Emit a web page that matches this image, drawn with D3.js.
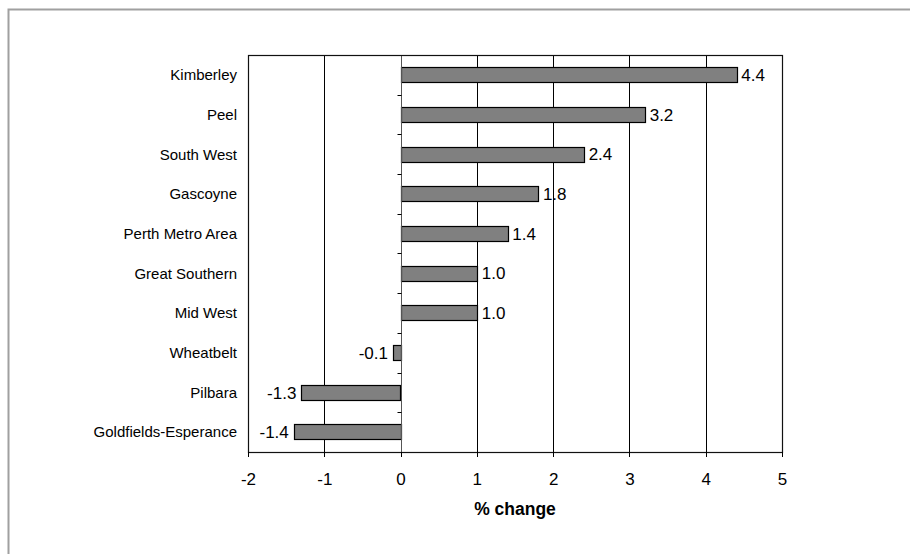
<!DOCTYPE html>
<html><head><meta charset="utf-8">
<script src="https://cdn.jsdelivr.net/npm/d3@7"></script>
<style>body{margin:0;background:#fff}svg{display:block}text{font-family:Arial,"Liberation Sans",sans-serif}</style>
</head><body>
<script>
const categories = ["Kimberley","Peel","South West","Gascoyne","Perth Metro Area","Great Southern","Mid West","Wheatbelt","Pilbara","Goldfields-Esperance"];
const values = [4.4,3.2,2.4,1.8,1.4,1.0,1.0,-0.1,-1.3,-1.4];
const xTicks = [-2,-1,0,1,2,3,4,5];
const xTitle = "% change";

const W = 910, H = 554;
const svg = d3.select("body").append("svg").attr("width", W).attr("height", H);

// outer frame (top & left visible)
svg.append("rect").attr("x", 8.5).attr("y", 9.5).attr("width", 1000).attr("height", 1000)
  .attr("fill", "none").attr("stroke", "#a0a0a0").attr("stroke-width", 2);

const L = 248, R = 782, T = 55, B = 452;
const x = d3.scaleLinear().domain([-2, 5]).range([L, R]);
const y = d3.scaleBand().domain(categories).range([T, B]).paddingInner(0.61).paddingOuter(0.305);

// gridlines
svg.append("g").selectAll("line").data(xTicks.filter(d => d !== 0 && d !== -2 && d !== 5)).join("line")
  .attr("x1", d => Math.round(x(d)) + 0.5).attr("x2", d => Math.round(x(d)) + 0.5)
  .attr("y1", T).attr("y2", B).attr("stroke", "#000").attr("stroke-width", 1);

// bars
svg.append("g").selectAll("rect").data(values).join("rect")
  .attr("x", d => Math.round(x(Math.min(0, d))) + 0.5)
  .attr("y", (d, i) => Math.round(y(categories[i])) + 0.5)
  .attr("width", d => Math.round(Math.abs(x(d) - x(0))))
  .attr("height", Math.round(y.bandwidth()))
  .attr("fill", "#808080").attr("stroke", "#000").attr("stroke-width", 1.2);

// zero axis line
const x0 = Math.round(x(0)) + 0.5;
svg.append("line").attr("x1", x0).attr("x2", x0).attr("y1", T).attr("y2", B)
  .attr("stroke", "#555").attr("stroke-width", 1);
// category boundary ticks
const bounds = d3.range(1, categories.length).map(i => y(categories[i]) - y.step() * y.paddingInner() / 2);
svg.append("g").selectAll("line").data(bounds).join("line")
  .attr("x1", x0 - 4).attr("x2", x0).attr("y1", d => Math.round(d) + 0.5).attr("y2", d => Math.round(d) + 0.5)
  .attr("stroke", "#000");

// plot frame
svg.append("rect").attr("x", L + 0.5).attr("y", T + 0.5).attr("width", R - L).attr("height", B - T)
  .attr("fill", "none").attr("stroke", "#111").attr("stroke-width", 1.2);

// x axis ticks
const gx = svg.append("g");
gx.selectAll("line").data(xTicks).join("line")
  .attr("x1", d => Math.round(x(d)) + 0.5).attr("x2", d => Math.round(x(d)) + 0.5)
  .attr("y1", B).attr("y2", B + 5).attr("stroke", "#000");
gx.selectAll("text").data(xTicks).join("text")
  .attr("x", d => x(d) + 0.5).attr("y", 485).attr("text-anchor", "middle")
  .attr("font-size", 17).attr("fill", "#000").text(d => String(d));

svg.append("text").attr("x", (L + R) / 2).attr("y", 515).attr("text-anchor", "middle")
  .attr("font-size", 17.5).attr("font-weight", "bold").text(xTitle);

// category labels
svg.append("g").selectAll("text").data(categories).join("text")
  .attr("x", 237).attr("y", d => y(d) + y.bandwidth() / 2).attr("dy", "0.35em")
  .attr("text-anchor", "end").attr("font-size", 15).attr("fill", "#000").text(d => d);

// value labels
svg.append("g").selectAll("text").data(values).join("text")
  .attr("x", d => d >= 0 ? x(d) + 5 : x(d) - 5)
  .attr("y", (d, i) => y(categories[i]) + y.bandwidth() / 2).attr("dy", "0.36em")
  .attr("text-anchor", d => d >= 0 ? "start" : "end")
  .attr("font-size", 17).attr("fill", "#000").text(d => d.toFixed(1));
</script>
</body></html>
